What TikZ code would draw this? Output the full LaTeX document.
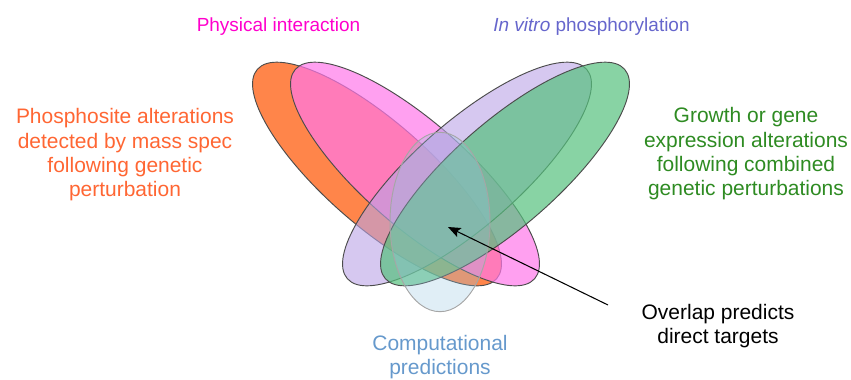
\documentclass[tikz,border=0pt]{standalone}
\usepackage{fontspec}
\setmainfont{Liberation Sans}
\definecolor{vnorange}{RGB}{255,133,74}
\definecolor{vnpink}{RGB}{255,119,233}
\definecolor{vnlavender}{RGB}{186,163,230}
\definecolor{vngreen}{RGB}{85,193,125}
\definecolor{vnblue}{RGB}{152,198,225}
\definecolor{txmagenta}{RGB}{255,0,204}
\definecolor{txpurple}{RGB}{102,102,204}
\definecolor{txorange}{RGB}{255,102,51}
\definecolor{txgreen}{RGB}{46,139,34}
\definecolor{txblue}{RGB}{102,153,204}
\usetikzlibrary{arrows.meta}

\begin{document}
\begin{tikzpicture}[
    setshape/.style={draw=black!70,line width=0.8pt},
    biglabel/.style={align=center,inner sep=0pt,font=\fontsize{17.9}{20.8}\selectfont},
    toplabel/.style={inner sep=0pt,font=\fontsize{16.2}{19}\selectfont}]
  \useasboundingbox (0,0) rectangle (25.53,-11.37);

  % Sets (bottom to top)
  \draw[setshape,fill=vnorange] (11.31,-5.22) ellipse [x radius=4.77cm,y radius=1.56cm,rotate=-41.2];
  \draw[setshape,fill=vnpink,fill opacity=0.7] (12.45,-5.22) ellipse [x radius=4.77cm,y radius=1.56cm,rotate=-41.2];
  \draw[setshape,fill=vnlavender,fill opacity=0.6] (14.01,-5.22) ellipse [x radius=4.77cm,y radius=1.56cm,rotate=41.2];
  \draw[setshape,fill=vngreen,fill opacity=0.7] (15.15,-5.22) ellipse [x radius=4.77cm,y radius=1.56cm,rotate=41.2];
  \draw[setshape,draw=black!35,fill=vnblue,fill opacity=0.3] (13.2,-6.66) ellipse [x radius=1.5cm,y radius=2.69cm];

  % Labels of the sets
  \node[toplabel,text=txmagenta] (physical) at (8.355,-0.795) {Physical interaction};
  \node[toplabel,text=txpurple] (invitro) at (17.745,-0.795) {\textit{In vitro} phosphorylation};
  \node[biglabel,text=txorange] (massspec) at (3.75,-4.65)
        {Phosphosite alterations\\detected by mass spec\\following genetic\\perturbation};
  \node[biglabel,text=txgreen] (growth) at (22.38,-4.62)
        {Growth or gene\\expression alterations\\following combined\\genetic perturbations};
  \node[biglabel,text=txblue] (computational) at (13.2,-10.71) {Computational\\predictions};
  \node[biglabel] (overlaptext) at (21.54,-9.78) {Overlap predicts\\direct targets};

  % Pointer to the common region
  \coordinate (overlap) at (13.44,-6.81);
  \coordinate (pointer) at (18.24,-9.15);
  \draw[-{Stealth[length=3.8mm,width=3mm,inset=0.8mm]},line width=0.9pt] (pointer) -- (overlap);
\end{tikzpicture}
\end{document}
